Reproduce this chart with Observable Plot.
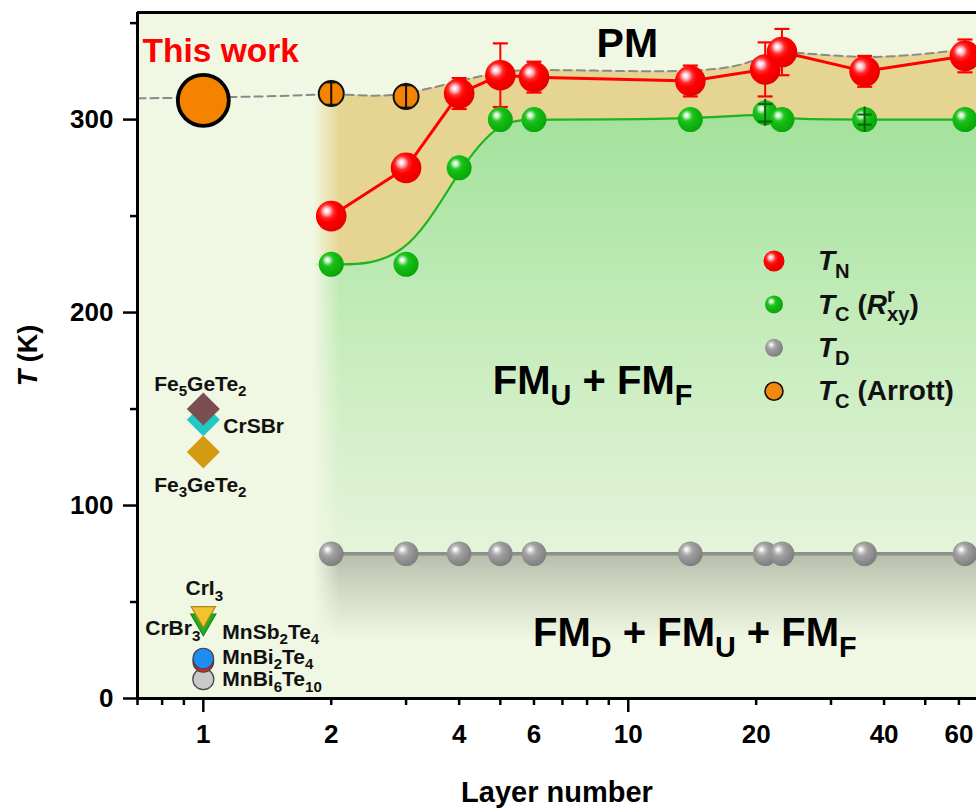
<!DOCTYPE html>
<html><head><meta charset="utf-8">
<script src="https://cdn.jsdelivr.net/npm/d3@7"></script>
<script src="https://cdn.jsdelivr.net/npm/@observablehq/plot@0.6"></script>
<style>
body{margin:0;background:#fff;}
#chart svg{display:block;}
</style></head><body><div id="chart"></div>
<script>
// ================= DATA =================
// T_N (red)
const layersTN = [2, 3, 4, 5, 6, 14, 21, 23, 36, 62];
const tN       = [250, 275, 313.5, 323, 322, 320, 326, 335, 325, 333];
const tNErr    = [3, 3, 8, 16.5, 8, 8, 14, 12, 8, 8.5];
// T_C (R_xy) (green)
const layersTC = [2, 3, 4, 5, 6, 14, 21, 23, 36, 62];
const tC       = [225, 225, 275, 300, 300, 300, 303.5, 300, 300, 300];
const tCErrBar = [0, 0, 0, 0, 0, 0, 7, 0, 6.5, 0];
const tCErrCap = [0, 0, 0, 0, 0, 0, 4.5, 0, 2.6, 0];
// T_D (gray)
const layersTD = [2, 3, 4, 5, 6, 14, 21, 23, 36, 62];
const tD       = [75, 75, 75, 75, 75, 75, 75, 75, 75, 75];
// T_C (Arrott) (orange)
const layersArrott = [1, 2, 3];
const tArrott      = [310, 313.5, 312];
const arrottErr    = [0, 5.8, 5.8];
// phase boundary PM / ordered (dashed envelope)
const envX = [0.7, 1, 1.5, 2, 2.5, 3, 4, 5, 6, 10, 14, 18, 21, 23, 36, 55, 66];
const envT = [311, 311.5, 312, 313.5, 312, 313, 320, 325, 326, 325, 325, 327, 333, 336, 331, 335, 337];
// FM_U + FM_F region boundary
const bandX  = [1.8, 2, 3, 4, 5, 6, 14, 21, 23, 36, 62, 66];
const bandTC = [225, 225, 225, 275, 300, 300, 300, 303.5, 300, 300, 300, 300];
const bandTD = [75, 75, 75, 75, 75, 75, 75, 75, 75, 75, 75, 75];
// reference monolayer compounds
const compoundNames = ["CrSBr", "Fe_{5}GeTe_{2}", "Fe_{3}GeTe_{2}", "CrBr_{3}", "CrI_{3}", "MnBi_{6}Te_{10}", "MnSb_{2}Te_{4}", "MnBi_{2}Te_{4}"];
const compoundLayer = [1, 1, 1, 1, 1, 1, 1, 1];
const compoundT     = [144.5, 150, 127.7, 40, 44, 10, 19, 20.7];
// axes
const xDomain = [0.7, 66];
const yDomain = [0, 355.5];
const xLabeled = [1, 2, 4, 6, 10, 20, 40, 60];
const xMajor = [1, 10];
const xMinor = [0.7, 0.8, 0.9, 2, 3, 4, 5, 6, 7, 8, 9, 20, 30, 40, 50, 60];
const yMajor = [0, 100, 200, 300];
const yMinor = [50, 150, 250, 350];
// legend
const legendLabels = ["*T*_{N}", "*T*_{C} (*R*^{r}_{xy})", "*T*_{D}", "*T*_{C} (Arrott)"];
const legendKeys = ["red", "green", "gray", "orange"];

// ================= STYLES =================
const BG = "#f0f7e2";
const TAN = "#e6d592";
const RED = "#ff0000";
const GREEN_LINE = "#1db41d";
const compoundStyle = {
  "CrSBr":           {symbol: "diamond2", fill: "#22c8c8", stroke: "none", r: 14.9, rotate: 0},
  "Fe_{5}GeTe_{2}":  {symbol: "diamond2", fill: "#7b4f52", stroke: "none", r: 14.9, rotate: 0},
  "Fe_{3}GeTe_{2}":  {symbol: "diamond2", fill: "#d49b12", stroke: "none", r: 14.9, rotate: 0},
  "CrBr_{3}":        {symbol: "triangle", fill: "#22aa22", stroke: "#158a15", r: 9.3, rotate: 180},
  "CrI_{3}":         {symbol: "triangle", fill: "#f2c230", stroke: "#b08a10", r: 9.0, rotate: 180},
  "MnBi_{6}Te_{10}": {symbol: "circle", fill: "#c9c9c9", stroke: "#444", r: 10.5, rotate: 0},
  "MnSb_{2}Te_{4}":  {symbol: "circle", fill: "#ee1c1c", stroke: "#444", r: 10.3, rotate: 0},
  "MnBi_{2}Te_{4}":  {symbol: "circle", fill: "#1e8cf0", stroke: "#444", r: 10.3, rotate: 0}
};
const compoundLabel = {
  "CrSBr":           {dx: 20, dy: 7, anchor: "start"},
  "Fe_{5}GeTe_{2}":  {dx: -3, dy: -25, anchor: "middle"},
  "Fe_{3}GeTe_{2}":  {dx: -3, dy: 33, anchor: "middle"},
  "CrBr_{3}":        {dx: -3, dy: 7, anchor: "end"},
  "CrI_{3}":         {dx: 1, dy: -25, anchor: "middle"},
  "MnBi_{6}Te_{10}": {dx: 19, dy: 0, anchor: "start"},
  "MnSb_{2}Te_{4}":  {dx: 19, dy: -30, anchor: "start"},
  "MnBi_{2}Te_{4}":  {dx: 19, dy: -1.5, anchor: "start"}
};
const hline = {draw(ctx, size) { const r = Math.sqrt(size / Math.PI); ctx.moveTo(-r, 0); ctx.lineTo(r, 0); }};
const idx = (arr) => arr.map((_, i) => i);

// ================= GRADIENT DEFS =================
function defsMark(index, scales) {
  const {x, y} = scales;
  const g = d3.create("svg:g");
  const defs = g.append("defs");
  const ball = (id, stops) => {
    const rg = defs.append("radialGradient").attr("id", id)
      .attr("cx", "40%").attr("cy", "38%").attr("r", "62%").attr("fx", "34%").attr("fy", "32%");
    stops.forEach(([o, c]) => rg.append("stop").attr("offset", o).attr("stop-color", c));
  };
  ball("redBall", [[0, "#ffffff"], [0.1, "#ffe6ea"], [0.22, "#ff9aa6"], [0.36, "#ff2a2a"], [0.55, "#ff0000"], [1, "#e80000"]]);
  ball("greenBall", [[0, "#ffffff"], [0.1, "#e4f8e4"], [0.22, "#8ee28e"], [0.36, "#24c424"], [0.55, "#12bb12"], [1, "#0aa60a"]]);
  ball("grayBall", [[0, "#ffffff"], [0.1, "#f0f0f0"], [0.24, "#c2c2c2"], [0.42, "#a0a0a0"], [1, "#7e7e7e"]]);
  const lin = (id, x1, y1, x2, y2, stops) => {
    const lg = defs.append("linearGradient").attr("id", id).attr("gradientUnits", "userSpaceOnUse")
      .attr("x1", x1).attr("y1", y1).attr("x2", x2).attr("y2", y2);
    stops.forEach(([o, c, op]) => lg.append("stop").attr("offset", o).attr("stop-color", c).attr("stop-opacity", op));
  };
  lin("greenFill", 0, y(300), 0, y(75), [[0, "#a3e29c", 1], [0.5, "#c6ecbc", 1], [1, "#e6f4da", 1]]);
  lin("shadowFill", 0, y(75), 0, y(30), [[0, "#b6beab", 1], [0.4, "#b6beab", 0.55], [1, "#b6beab", 0]]);
  lin("leftFade", x(1.82), 0, x(2.1), 0, [[0, BG, 1], [1, BG, 0]]);
  return g.node();
}

// ================= LEGEND =================
function legendMark() {
  const g = d3.create("svg:g").attr("font-size", 28).attr("font-weight", "bold").attr("fill", "#111").attr("text-anchor", "start");
  const x0 = 774, tx = 818, y0 = 261, step = 43.4;
  const spec = {
    red: {r: 10.5, fill: "url(#redBall)", stroke: "none"},
    green: {r: 9, fill: "url(#greenBall)", stroke: "none"},
    gray: {r: 9, fill: "url(#grayBall)", stroke: "none"},
    orange: {r: 9, fill: "#f5870a", stroke: "#111"}
  };
  legendKeys.forEach((k, i) => {
    const cy = y0 + i * step;
    const s = spec[k];
    g.append("circle").attr("cx", x0).attr("cy", cy).attr("r", s.r).attr("fill", s.fill)
      .attr("stroke", s.stroke).attr("stroke-width", 1.6);
    g.append("text").attr("x", tx).attr("y", cy).attr("dy", "0.33em").text(legendLabels[i]);
  });
  return g.node();
}

// ================= MARKS =================
const marks = [
  defsMark,
  Plot.frame({fill: BG, stroke: "none"}),
  // regions
  Plot.areaY(idx(envX).filter(i => envX[i] >= 1.5), {x: i => envX[i], y1: i => tD[0], y2: i => envT[i], curve: "basis", fill: TAN}),
  Plot.areaY(idx(bandX), {x: i => bandX[i], y1: i => bandTD[i], y2: i => bandTC[i], curve: "basis", fill: "url(#greenFill)"}),
  Plot.areaY(idx(bandX), {x: i => bandX[i], y1: yDomain[0], y2: i => bandTD[i], fill: "url(#shadowFill)"}),
  Plot.line(idx(bandX), {x: i => bandX[i], y: i => bandTC[i], curve: "basis", stroke: GREEN_LINE, strokeWidth: 2.2}),
  Plot.rect([0], {x1: xDomain[0], x2: 2.1, y1: yDomain[0], y2: yDomain[1], fill: "url(#leftFade)"}),
  // envelope & lines
  Plot.line(idx(envX), {x: i => envX[i], y: i => envT[i], curve: "basis", stroke: "#8a8a8a", strokeWidth: 2, strokeDasharray: "8,5"}),
  Plot.line(idx(layersTD), {x: i => layersTD[i], y: i => tD[i], stroke: "#8e8e8e", strokeWidth: 3.5}),
  Plot.line(idx(layersTN), {x: i => layersTN[i], y: i => tN[i], stroke: RED, strokeWidth: 3}),
  // red error bars
  Plot.ruleX(idx(layersTN), {x: i => layersTN[i], y1: i => tN[i] - tNErr[i], y2: i => tN[i] + tNErr[i], stroke: RED, strokeWidth: 2}),
  Plot.dot(idx(layersTN), {x: i => layersTN[i], y: i => tN[i] + tNErr[i], symbol: hline, r: 7.5, stroke: RED, strokeWidth: 2.2, fill: "none"}),
  Plot.dot(idx(layersTN), {x: i => layersTN[i], y: i => tN[i] - tNErr[i], symbol: hline, r: 7.5, stroke: RED, strokeWidth: 2.2, fill: "none"}),
  // points
  Plot.dot(idx(layersTD), {x: i => layersTD[i], y: i => tD[i], r: 12.3, fill: "url(#grayBall)"}),
  Plot.dot(idx(layersTC), {x: i => layersTC[i], y: i => tC[i], r: 12.5, fill: "url(#greenBall)"}),
  Plot.ruleX(idx(layersTC).filter(i => tCErrBar[i] > 0), {x: i => layersTC[i], y1: i => tC[i] - tCErrBar[i], y2: i => tC[i] + tCErrBar[i], stroke: "#0b5e0b", strokeWidth: 2}),
  Plot.dot(idx(layersTC).filter(i => tCErrCap[i] > 0), {x: i => layersTC[i], y: i => tC[i] + tCErrCap[i], symbol: hline, r: 7, stroke: "#0b5e0b", strokeWidth: 2, fill: "none"}),
  Plot.dot(idx(layersTC).filter(i => tCErrCap[i] > 0), {x: i => layersTC[i], y: i => tC[i] - tCErrCap[i], symbol: hline, r: 7, stroke: "#0b5e0b", strokeWidth: 2, fill: "none"}),
  Plot.dot(idx(layersTN), {x: i => layersTN[i], y: i => tN[i], r: 15.3, fill: "url(#redBall)"}),
  // Arrott
  Plot.dot([0], {x: i => layersArrott[i], y: i => tArrott[i], r: 25.5, fill: "#f48400", stroke: "#000", strokeWidth: 3.8}),
  Plot.dot([1, 2], {x: i => layersArrott[i], y: i => tArrott[i], r: 12.5, fill: "#f48400", stroke: "#111", strokeWidth: 2}),
  Plot.ruleX([1, 2], {x: i => layersArrott[i], y1: i => tArrott[i] - arrottErr[i] - 1, y2: i => tArrott[i] + arrottErr[i] + 1, stroke: "#111", strokeWidth: 2}),
  Plot.dot([1, 2], {x: i => layersArrott[i], y: i => tArrott[i] + arrottErr[i], symbol: hline, r: 6, stroke: "#111", strokeWidth: 2, fill: "none"}),
  Plot.dot([1, 2], {x: i => layersArrott[i], y: i => tArrott[i] - arrottErr[i], symbol: hline, r: 6, stroke: "#111", strokeWidth: 2, fill: "none"}),
  // compounds
  ...compoundNames.map((n, i) => {
    const s = compoundStyle[n];
    return Plot.dot([i], {x: j => compoundLayer[j], y: j => compoundT[j], symbol: s.symbol, r: s.r, fill: s.fill, stroke: s.stroke, strokeWidth: 1.2, rotate: s.rotate});
  }),
  ...compoundNames.map((n, i) => {
    const l = compoundLabel[n];
    return Plot.text([i], {x: j => compoundLayer[j], y: j => compoundT[j], text: j => compoundNames[j], dx: l.dx, dy: l.dy, textAnchor: l.anchor, fontSize: 21, fontWeight: "bold", fill: "#111"});
  }),
  // annotations
  Plot.text(["This work"], {x: xDomain[0], y: 335.5, text: d => d, dx: 5, textAnchor: "start", fontSize: 33.5, fontWeight: "bold", fill: RED}),
  Plot.text(["PM"], {x: 9.95, y: 339, text: d => d, textAnchor: "middle", fontSize: 41, fontWeight: "bold", fill: "#000"}),
  Plot.text(["FM_{U} + FM_{F}"], {x: 4.8, y: 164.5, text: d => d, textAnchor: "start", fontSize: 40, fontWeight: "bold", fill: "#000"}),
  Plot.text(["FM_{D} + FM_{U} + FM_{F}"], {x: 5.97, y: 34, text: d => d, textAnchor: "start", fontSize: 40, fontWeight: "bold", fill: "#000"}),
  legendMark,
  // axes
  Plot.axisX(xMajor, {tickSize: 14, strokeWidth: 2.5, tickFormat: () => "", label: null}),
  Plot.axisX(xMinor, {tickSize: 7, strokeWidth: 2.5, tickFormat: () => "", label: null}),
  Plot.text(xLabeled, {x: d => d, y: yDomain[0], dy: 36, text: d => String(d), textAnchor: "middle", lineAnchor: "middle", fontSize: 26, fontWeight: "bold", fill: "#000"}),
  Plot.axisY(yMajor, {tickSize: 14, tickPadding: 10, strokeWidth: 2.5, tickFormat: d => String(d), fontSize: 26, fontWeight: "bold", label: null}),
  Plot.axisY(yMinor, {tickSize: 7, strokeWidth: 2.5, tickFormat: () => "", label: null}),
  Plot.ruleY([yDomain[0]], {stroke: "#000", strokeWidth: 3}),
  Plot.ruleY([yDomain[1]], {stroke: "#000", strokeWidth: 3}),
  Plot.ruleX([xDomain[0]], {stroke: "#000", strokeWidth: 3}),
  Plot.text(["*T* (K)"], {frameAnchor: "left", text: d => d, rotate: -90, dx: -109, textAnchor: "middle", lineAnchor: "middle", fontSize: 27, fontWeight: "bold", fill: "#000"}),
  Plot.text(["Layer number"], {frameAnchor: "bottom", text: d => d, dy: 94, textAnchor: "middle", lineAnchor: "middle", fontSize: 29, fontWeight: "bold", fill: "#000"})
];

const chart = Plot.plot({
  width: 976, height: 809,
  marginLeft: 137, marginRight: 0, marginTop: 12, marginBottom: 111,
  x: {type: "log", domain: xDomain},
  y: {domain: yDomain},
  style: {background: "transparent", overflow: "visible", fontFamily: "'Liberation Sans', Arial, sans-serif", color: "#000"},
  marks
});
document.getElementById("chart").append(chart);

// ============ rich text: *italic*, _{sub}, ^{sup} ============
function richify(el) {
  const s = el.textContent;
  if (!/[_^*]/.test(s)) return;
  const fs = parseFloat(getComputedStyle(el).fontSize) || 20;
  const ns = "http://www.w3.org/2000/svg";
  const re = /\*([^*]+)\*|_\{([^}]*)\}|\^\{([^}]*)\}|([^*_^]+)/g;
  el.textContent = "";
  let level = 0, prevSup = null;
  for (const m of s.matchAll(re)) {
    const t = document.createElementNS(ns, "tspan");
    let target = 0, txt, dx = 0, small = false, italic = false;
    if (m[1] != null) { txt = m[1]; italic = true; }
    else if (m[2] != null) { txt = m[2]; small = true; target = fs * 0.27; if (prevSup) dx = -prevSup.getComputedTextLength(); }
    else if (m[3] != null) { txt = m[3]; small = true; target = -fs * 0.4; }
    else { txt = m[4]; }
    const dy = target - level; level = target;
    if (dy) t.setAttribute("dy", dy);
    if (dx) t.setAttribute("dx", dx);
    if (small) t.setAttribute("font-size", fs * 0.72);
    if (italic) t.setAttribute("font-style", "italic");
    t.textContent = txt;
    el.appendChild(t);
    prevSup = m[3] != null ? t : null;
  }
}
chart.querySelectorAll("text").forEach(richify);
</script>
</body></html>
